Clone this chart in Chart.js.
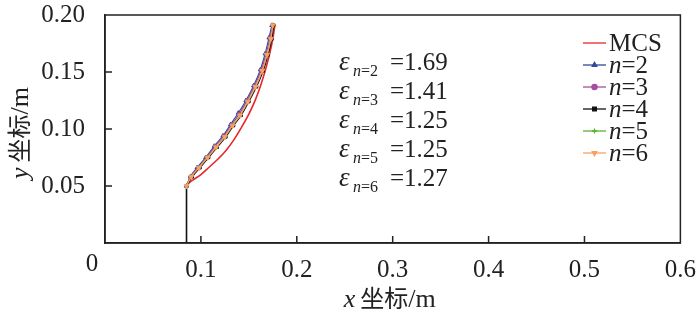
<!DOCTYPE html>
<html>
<head>
<meta charset="utf-8">
<script src="https://cdn.jsdelivr.net/npm/chart.js@4.4.0/dist/chart.umd.min.js"></script>
<style>
html,body{margin:0;padding:0;background:#fff}
#wrap{width:700px;height:318px}
</style>
</head>
<body>
<div id="wrap"><canvas id="c"></canvas></div>
<script>
// data
const mcsX = [0.085,0.088,0.093,0.100,0.108,0.117,0.126,0.134,0.142,0.150,0.157,0.163,0.168,0.172,0.175,0.177];
const mcsY = [0.050,0.053,0.056,0.060,0.066,0.073,0.081,0.090,0.101,0.113,0.126,0.140,0.154,0.167,0.179,0.190];
const n2X = [0.085,0.089,0.096,0.105,0.114,0.123,0.131,0.139,0.147,0.155,0.162,0.167,0.171,0.174];
const n2Y = [0.050,0.058,0.066,0.075,0.085,0.094,0.104,0.114,0.125,0.138,0.152,0.166,0.180,0.191];
const n3X = [0.085,0.089,0.097,0.106,0.115,0.124,0.132,0.140,0.148,0.156,0.163,0.168,0.172,0.175];
const n3Y = [0.050,0.058,0.066,0.075,0.085,0.094,0.104,0.113,0.125,0.138,0.152,0.166,0.180,0.191];
const n4X = [0.085,0.091,0.099,0.108,0.117,0.126,0.134,0.142,0.150,0.158,0.165,0.170,0.174,0.176];
const n4Y = [0.050,0.058,0.066,0.075,0.084,0.093,0.103,0.112,0.124,0.137,0.151,0.165,0.179,0.191];
const n5X = [0.085,0.090,0.098,0.107,0.116,0.125,0.133,0.141,0.149,0.157,0.164,0.169,0.173,0.175];
const n5Y = [0.050,0.058,0.066,0.075,0.084,0.093,0.103,0.112,0.124,0.137,0.151,0.165,0.179,0.191];
const n6X = [0.085,0.090,0.098,0.107,0.116,0.125,0.133,0.141,0.149,0.157,0.164,0.169,0.173,0.175];
const n6Y = [0.050,0.058,0.066,0.075,0.084,0.093,0.103,0.112,0.124,0.137,0.151,0.165,0.179,0.191];
const startX = [0.085,0.085];
const startY = [0,0.050];

const epsN = ['2','3','4','5','6'];
const epsVals = ['1.69','1.41','1.25','1.25','1.27'];
const xTicks = [0,0.1,0.2,0.3,0.4,0.5,0.6];
const yTicks = [0,0.05,0.10,0.15,0.20];

const SERIF = '"Liberation Serif", "Times New Roman", serif';
const CJK = '"Noto Sans CJK SC", sans-serif';

function pts(xs, ys) {
  return xs.map((x, i) => ({x: x, y: ys[i]}));
}

function series(label, xs, ys, color, style, rot, r, order) {
  return {
    label: label, data: pts(xs, ys), borderColor: color, backgroundColor: color,
    borderWidth: 1.2, pointStyle: style, pointRotation: rot, pointRadius: r,
    pointBorderWidth: 1, order: order
  };
}

const datasets = [
  {label: 'MCS', data: pts(mcsX, mcsY), borderColor: '#e8262a', borderWidth: 1.6, pointRadius: 0, order: 6},
  series('n=2', n2X, n2Y, '#34489a', 'triangle', 0, 2.4, 5),
  series('n=3', n3X, n3Y, '#a4509e', 'circle', 0, 1.8, 4),
  series('n=4', n4X, n4Y, '#111111', 'rect', 0, 1.8, 2),
  series('n=5', n5X, n5Y, '#5ab030', 'cross', 0, 2.6, 3),
  series('n=6', n6X, n6Y, '#f7a162', 'triangle', 180, 2.8, 1),
  {label: '', data: pts(startX, startY), borderColor: '#111', borderWidth: 1.6, pointRadius: 0, order: 7}
];

// draw a row of text pieces with different fonts
function runs(ctx, parts, x, y) {
  let cx = x;
  parts.forEach(p => {
    ctx.font = p.font;
    ctx.fillText(p.t, cx, y);
    cx += ctx.measureText(p.t).width;
  });
  return cx;
}
function runsWidth(ctx, parts) {
  let w = 0;
  parts.forEach(p => { ctx.font = p.font; w += ctx.measureText(p.t).width; });
  return w;
}

const decor = {
  id: 'decor',
  afterDraw(chart) {
    const ctx = chart.ctx, a = chart.chartArea;
    const xs = chart.scales.x, ys = chart.scales.y;
    ctx.save();
    ctx.strokeStyle = '#222';
    ctx.lineWidth = 1.5;
    ctx.strokeRect(a.left, a.top, a.right - a.left, a.bottom - a.top);
    // inward ticks
    ctx.beginPath();
    xTicks.slice(1, -1).forEach(v => {
      const p = xs.getPixelForValue(v);
      ctx.moveTo(p, a.bottom); ctx.lineTo(p, a.bottom - 7);
    });
    yTicks.slice(1, -1).forEach(v => {
      const p = ys.getPixelForValue(v);
      ctx.moveTo(a.left, p); ctx.lineTo(a.left + 7, p);
    });
    ctx.stroke();

    ctx.fillStyle = '#222';
    ctx.textBaseline = 'alphabetic';
    // shared origin label
    ctx.font = '25px ' + SERIF;
    ctx.textAlign = 'center';
    ctx.fillText('0', xs.getPixelForValue(0) - 13, a.bottom + 28);
    ctx.textAlign = 'left';

    // axis titles
    const xt = [
      {t: 'x', font: 'italic 26px ' + SERIF},
      {t: ' ', font: '20px ' + SERIF},
      {t: '坐标', font: '24px ' + CJK},
      {t: '/m', font: '26px ' + SERIF}
    ];
    const xw = runsWidth(ctx, xt);
    runs(ctx, xt, (a.left + a.right) / 2 - xw / 2 - 3, 307);
    ctx.save();
    ctx.translate(28, (a.top + a.bottom) / 2 + 4);
    ctx.rotate(-Math.PI / 2);
    const yt = [
      {t: 'y', font: 'italic 26px ' + SERIF},
      {t: ' ', font: '20px ' + SERIF},
      {t: '坐标', font: '24px ' + CJK},
      {t: '/m', font: '26px ' + SERIF}
    ];
    const yw = runsWidth(ctx, yt);
    runs(ctx, yt, -yw / 2, 0);
    ctx.restore();

    // epsilon annotations
    epsN.forEach((n, i) => {
      const by = 70 + i * 29;
      ctx.font = 'italic 27px ' + SERIF;
      ctx.fillText('ε', 339, by);
      runs(ctx, [
        {t: 'n', font: 'italic 16px ' + SERIF},
        {t: '=' + n, font: '16px ' + SERIF}
      ], 353, by + 6);
      ctx.font = '25px ' + SERIF;
      ctx.fillText('=' + epsVals[i], 390, by);
    });

    // legend
    const items = chart.data.datasets.filter(d => d.label);
    items.forEach((d, i) => {
      const cy = 43 + i * 22;
      ctx.strokeStyle = d.borderColor;
      ctx.fillStyle = d.borderColor;
      ctx.lineWidth = 1.3;
      ctx.beginPath();
      ctx.moveTo(583, cy); ctx.lineTo(606, cy);
      ctx.stroke();
      if (d.pointRadius) {
        Chart.helpers.drawPoint(ctx, {pointStyle: d.pointStyle, rotation: d.pointRotation,
          radius: 2.6, borderWidth: 1}, 594.5, cy);
      }
      ctx.fillStyle = '#222';
      const base = cy + 8;
      if (d.label === 'MCS') {
        ctx.font = '25px ' + SERIF;
        ctx.fillText('MCS', 609, base);
      } else {
        runs(ctx, [
          {t: 'n', font: 'italic 25px ' + SERIF},
          {t: d.label.slice(1), font: '25px ' + SERIF}
        ], 609, base);
      }
    });
    ctx.restore();
  }
};

new Chart(document.getElementById('c'), {
  type: 'line',
  data: {datasets: datasets},
  options: {
    responsive: true,
    maintainAspectRatio: false,
    animation: false,
    layout: {autoPadding: false, padding: {top: 15, right: 18, left: 0, bottom: 0}},
    plugins: {legend: {display: false}, tooltip: {enabled: false}},
    elements: {line: {cubicInterpolationMode: 'monotone'}},
    scales: {
      x: {
        type: 'linear', min: 0, max: 0.6,
        afterBuildTicks: s => { s.ticks = xTicks.map(v => ({value: v})); },
        afterFit: s => { s.height = 75; },
        grid: {display: false},
        border: {display: true, color: '#222', width: 1.5},
        ticks: {
          padding: 4, color: '#222', font: {family: SERIF, size: 25},
          maxRotation: 0,
          callback: v => v === 0 ? '' : v.toFixed(1)
        }
      },
      y: {
        type: 'linear', min: 0, max: 0.2,
        afterBuildTicks: s => { s.ticks = yTicks.map(v => ({value: v})); },
        afterFit: s => { s.width = 105; s.paddingTop = 0; s.paddingBottom = 0; },
        grid: {display: false},
        border: {display: true, color: '#222', width: 1.5},
        ticks: {
          padding: 12, color: '#222', font: {family: SERIF, size: 25, lineHeight: 0.9},
          callback: v => v === 0 ? '' : v.toFixed(2)
        }
      }
    }
  },
  plugins: [decor]
});
</script>
</body>
</html>
